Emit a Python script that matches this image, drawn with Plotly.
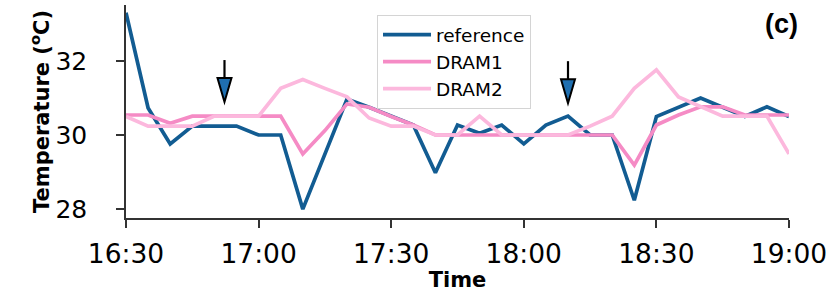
import pandas as pd
import plotly.graph_objects as go

times = pd.date_range("2021-01-01 16:30", "2021-01-01 19:00", freq="5min")

reference = [33.3, 30.73, 29.76, 30.24, 30.24, 30.24, 30.0, 30.0, 28.0, 29.5,
             30.97, 30.75, 30.5, 30.27, 28.98, 30.27, 30.05, 30.27, 29.76, 30.27,
             30.51, 30.0, 30.0, 28.24, 30.5, 30.75, 31.0, 30.75, 30.5, 30.76, 30.5]
dram1 = [30.54, 30.54, 30.32, 30.51, 30.51, 30.51, 30.51, 30.51, 29.49, 30.12,
         30.84, 30.75, 30.5, 30.27, 30.0, 30.0, 30.0, 30.0, 30.0, 30.0,
         30.0, 30.0, 30.0, 29.19, 30.27, 30.54, 30.76, 30.76, 30.54, 30.54, 30.54]
dram2 = [30.5, 30.24, 30.24, 30.24, 30.51, 30.51, 30.51, 31.26, 31.5, 31.26,
         31.03, 30.46, 30.24, 30.24, 30.0, 30.0, 30.51, 30.0, 30.0, 30.0,
         30.0, 30.24, 30.51, 31.26, 31.76, 31.03, 30.76, 30.51, 30.51, 30.51, 29.49]

arrow_times = ["2021-01-01 16:52:17", "2021-01-01 18:10:00"]
arrow_tips = [30.89, 30.86]

y_ticks = [28, 30, 32]

C_REF = "#125c92"
C_D1 = "#f58bc5"
C_D2 = "#fcb8dd"

fig = go.Figure()
for name, vals, col in [("reference", reference, C_REF), ("DRAM1", dram1, C_D1), ("DRAM2", dram2, C_D2)]:
    fig.add_trace(go.Scatter(x=times, y=vals, mode="lines", name=name,
                             line=dict(color=col, width=3.7)))

shapes = []
for t, v in zip(arrow_times, arrow_tips):
    shapes.append(dict(type="line", xref="x", yref="y", xsizemode="pixel", ysizemode="pixel",
                       xanchor=t, yanchor=v, x0=0, x1=0, y0=24, y1=42,
                       line=dict(color="black", width=2.2), layer="above"))
    shapes.append(dict(type="path", xref="x", yref="y", xsizemode="pixel", ysizemode="pixel",
                       xanchor=t, yanchor=v, path="M -7,24 L 7,24 L 0,0 Z",
                       fillcolor="#1f6fb0", line=dict(color="black", width=2), layer="above"))

fig.update_layout(
    width=830, height=292,
    margin=dict(l=126, r=41, t=5, b=74, autoexpand=False),
    plot_bgcolor="white", paper_bgcolor="white",
    font=dict(family="DejaVu Sans", color="black"),
    showlegend=True,
    legend=dict(x=0.3786, y=0.953, xanchor="left", yanchor="top",
                bgcolor="white", bordercolor="#d4d4d4", borderwidth=1,
                font=dict(family="DejaVu Sans", size=18.5, color="black"),
                tracegroupgap=0, itemwidth=48),
    shapes=shapes,
    annotations=[dict(text="<b>(c)</b>", xref="paper", yref="paper", x=0.988, y=0.911,
                      xanchor="center", yanchor="middle", showarrow=False,
                      font=dict(family="Liberation Sans", size=27, color="black"))],
)
fig.update_xaxes(
    range=[times[0], times[-1]], type="date", automargin=False,
    tickformat="%H:%M", dtick=30 * 60 * 1000, tick0=times[0],
    showgrid=False, zeroline=False,
    showline=True, linecolor="#333333", linewidth=1.5,
    ticks="outside", ticklen=8, tickwidth=1.5, tickcolor="#333333",
    tickfont=dict(family="DejaVu Sans", size=26.5, color="black"),
    ticklabelstandoff=3,
    title=dict(text="<b>Time</b>", font=dict(family="DejaVu Sans", size=21, color="black"), standoff=13),
)
fig.update_yaxes(
    range=[27.76, 33.51], tickvals=y_ticks, automargin=False,
    showgrid=False, zeroline=False,
    showline=True, linecolor="#333333", linewidth=1.5,
    ticks="outside", ticklen=8, tickwidth=1.5, tickcolor="#333333",
    tickfont=dict(family="DejaVu Sans", size=25, color="black"),
    ticklabelstandoff=24,
    title=dict(text="<b>Temperature (<sup>o</sup>C)</b>", font=dict(family="DejaVu Sans", size=21, color="black"), standoff=0),
)
fig.write_html("out.html", config={"displayModeBar": False},
               post_script="document.body.style.margin='0';")
